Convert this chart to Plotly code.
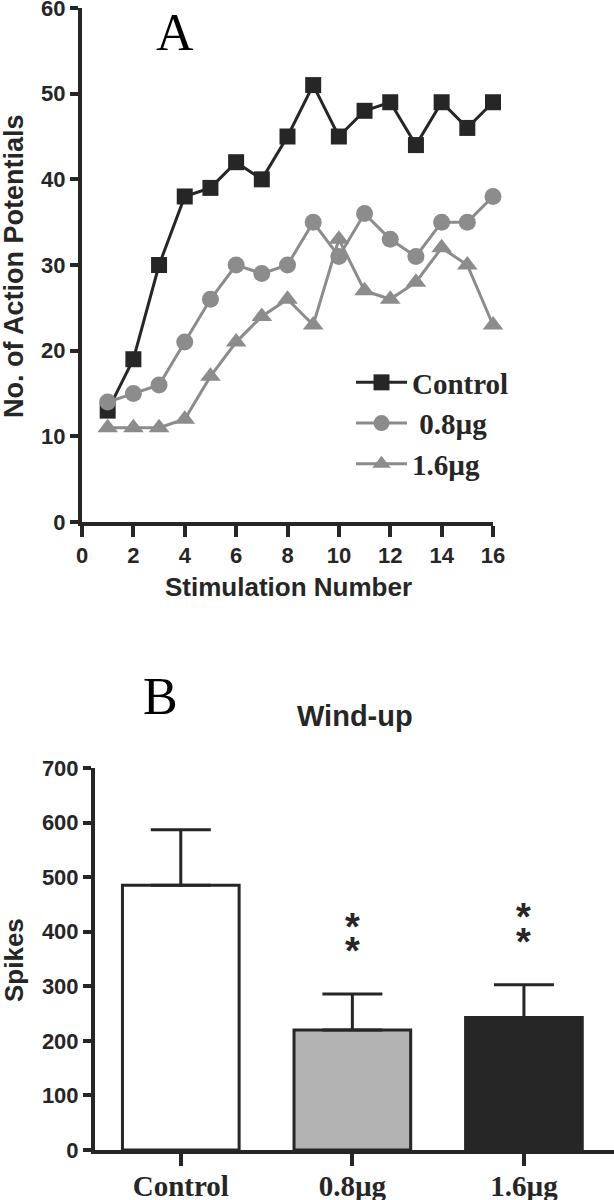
import plotly.graph_objects as go

# ---- Panel A data ----
stim = list(range(1, 17))
control = [13, 19, 30, 38, 39, 42, 40, 45, 51, 45, 48, 49, 44, 49, 46, 49]
dose_08 = [14, 15, 16, 21, 26, 30, 29, 30, 35, 31, 36, 33, 31, 35, 35, 38]
dose_16 = [11, 11, 11, 12, 17, 21, 24, 26, 23, 33, 27, 26, 28, 32, 30, 23]
a_xticks = [0, 2, 4, 6, 8, 10, 12, 14, 16]
a_yticks = [0, 10, 20, 30, 40, 50, 60]
series_names = ["Control", " 0.8µg", "1.6µg"]

# ---- Panel B data ----
groups = ["Control", "0.8µg", "1.6µg"]
spikes_mean = [485, 220, 243]
spikes_sem = [102, 66, 60]
sig_marks = ["", "**", "**"]
b_yticks = [0, 100, 200, 300, 400, 500, 600, 700]

DARK = "#262626"
GRAY = "#8c8c8c"
SANS = "Liberation Sans, Arial, sans-serif"
SERIF = "Liberation Serif, Times New Roman, serif"

W, H = 614, 1200
def px_x(p):
    return p / W
def px_y(p):
    return 1 - p / H

fig = go.Figure()

# Panel A lines
styles = [
    (control, DARK, "square", 16),
    (dose_08, GRAY, "circle", 17),
    (dose_16, GRAY, "triangle-up", 18),
]
for (vals, col, sym, sz), name in zip(styles, series_names):
    fig.add_trace(go.Scatter(
        x=stim, y=vals, name=name, mode="lines+markers",
        line=dict(color=col, width=3),
        marker=dict(symbol=sym, size=sz, color=col),
        cliponaxis=False, xaxis="x", yaxis="y",
    ))

# Panel B bars
fig.add_trace(go.Bar(
    x=groups, y=spikes_mean, xaxis="x2", yaxis="y2", width=0.68,
    marker=dict(color=["white", "#b3b3b3", DARK], line=dict(color=DARK, width=3)),
    error_y=dict(type="data", symmetric=False, array=spikes_sem,
                 arrayminus=[0] * len(spikes_sem), color=DARK, thickness=3, width=30),
    showlegend=False,
))

axis_common = dict(
    showline=True, linewidth=4, linecolor=DARK, ticks="outside", tickwidth=4,
    tickcolor=DARK, showgrid=False, zeroline=False, automargin=False,
    ticklabeloverflow="allow",
)
sans_ticks = dict(family=SANS, size=22, color=DARK, weight="bold")

fig.update_layout(
    template="none",
    width=W, height=H, margin=dict(l=0, r=0, t=0, b=0, autoexpand=False),
    paper_bgcolor="white", plot_bgcolor="white",
    xaxis=dict(domain=[px_x(82), px_x(493)], range=[0, 16], tickvals=a_xticks,
               ticklen=11, anchor="y", tickfont=sans_ticks, **axis_common),
    yaxis=dict(domain=[px_y(522), px_y(8)], range=[0, 60], tickvals=a_yticks,
               ticklen=8, anchor="x", tickfont=sans_ticks, **axis_common),
    xaxis2=dict(domain=[px_x(95), 1.0], range=[-0.5, 2.525], ticklen=12,
                anchor="y2", type="category", ticklabelstandoff=-5,
                tickfont=dict(family=SERIF, size=29, color=DARK, weight="bold"),
                **axis_common),
    yaxis2=dict(domain=[px_y(1150), px_y(768)], range=[0, 700], tickvals=b_yticks,
                ticklen=8, anchor="x2", tickfont=sans_ticks, **axis_common),
    legend=dict(x=px_x(351), y=px_y(357), xanchor="left", yanchor="top",
                bgcolor="rgba(0,0,0,0)",
                font=dict(family=SERIF, size=29, color=DARK, weight="bold"),
                itemwidth=51, tracegroupgap=0),
    bargap=0.3,
)

def note(text, x, y, font, **kw):
    return dict(text=text, x=x, y=y, xref="paper", yref="paper", showarrow=False,
                xanchor="center", yanchor="middle", font=font, **kw)

annotations = [
    note("A", px_x(175), px_y(33), dict(family=SERIF, size=52, color="black")),
    note("B", px_x(160), px_y(696), dict(family=SERIF, size=52, color="black")),
    note("Wind-up", px_x(355), px_y(716),
         dict(family=SANS, size=29, color=DARK, weight="bold")),
    note("Stimulation Number", px_x(288), px_y(587),
         dict(family=SANS, size=26, color=DARK, weight="bold")),
    note("No. of Action Potentials", px_x(14), px_y(266),
         dict(family=SANS, size=27, color=DARK, weight="bold"), textangle=-90),
    note("Spikes", px_x(14), px_y(960),
         dict(family=SANS, size=26, color=DARK, weight="bold"), textangle=-90),
]
for g, m, s, mark in zip(groups, spikes_mean, spikes_sem, sig_marks):
    for i in range(len(mark)):
        annotations.append(dict(
            text="*", x=g, y=m + s + 140 - 45 * i,
            xref="x2", yref="y2", showarrow=False, yshift=-9,
            xanchor="center", yanchor="middle",
            font=dict(family=SANS, size=38, color=DARK, weight="bold"),
        ))
fig.update_layout(annotations=annotations)

fig.write_html("out.html", config={"displayModeBar": False},
               post_script="document.body.style.margin='0';")
